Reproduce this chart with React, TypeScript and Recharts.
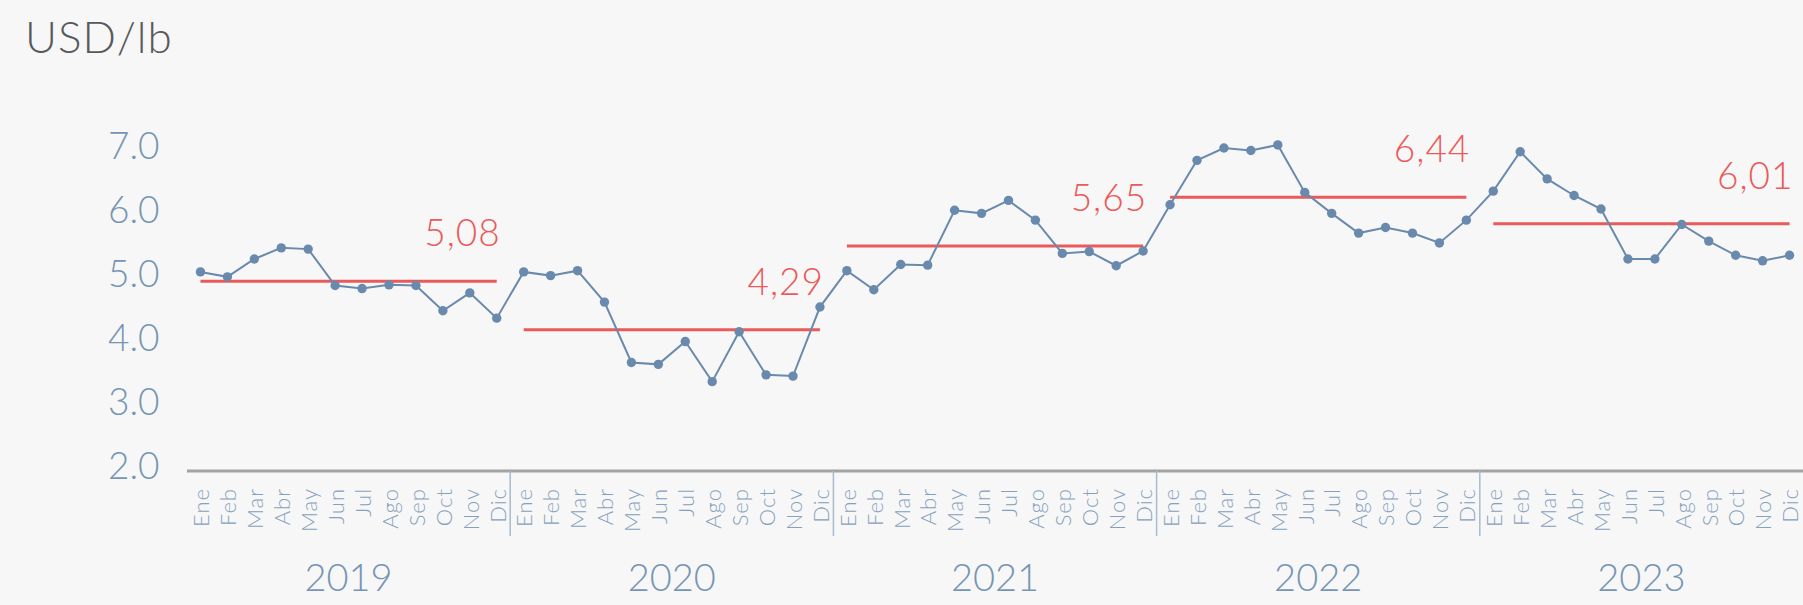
import React from "react";
import { ComposedChart, Line, XAxis, YAxis, ReferenceLine } from "recharts";

// monthly price, USD/lb
const YEARS = ["2019", "2020", "2021", "2022", "2023"];
const MONTHS = ["Ene", "Feb", "Mar", "Abr", "May", "Jun", "Jul", "Ago", "Sep", "Oct", "Nov", "Dic"];

const PRICE_2019 = [5.23, 5.15, 5.44, 5.62, 5.6, 5.01, 4.96, 5.02, 5.01, 4.6, 4.89, 4.48];
const PRICE_2020 = [5.23, 5.17, 5.25, 4.74, 3.76, 3.73, 4.1, 3.45, 4.26, 3.56, 3.54, 4.66];
const PRICE_2021 = [5.25, 4.94, 5.35, 5.34, 6.23, 6.18, 6.39, 6.07, 5.53, 5.56, 5.33, 5.57];
const PRICE_2022 = [6.32, 7.04, 7.24, 7.2, 7.29, 6.52, 6.18, 5.86, 5.95, 5.86, 5.7, 6.07];
const PRICE_2023 = [6.54, 7.18, 6.74, 6.47, 6.25, 5.44, 5.44, 6.0, 5.73, 5.5, 5.41, 5.5];

const YEAR_AVG = [5.08, 4.29, 5.65, 6.44, 6.01];
const Y_TICKS = [2, 3, 4, 5, 6, 7];

const PRICES = [PRICE_2019, PRICE_2020, PRICE_2021, PRICE_2022, PRICE_2023];

const W = 1803;
const H = 605;
const PLOT_LEFT = 187;
const BAND = (W - PLOT_LEFT) / (YEARS.length * MONTHS.length);

const C = {
  bg: "#f7f7f7",
  line: "#6a8aad",
  avg: "#ea5a5a",
  tick: "#7695b4",
  month: "#86a1bd",
  sep: "#a9bbcd",
  axis: "#a3a3a3",
  title: "#58595b",
};

const FONT = "Lato, 'Open Sans', sans-serif";

const data = YEARS.flatMap((yr, yi) =>
  MONTHS.map((m, mi) => ({ key: `${yr}-${m}`, price: PRICES[yi][mi] }))
);

function YTick({ x, y, payload }: any) {
  return (
    <text x={x - 79} y={y} dy="0.35em" textAnchor="start" fill={C.tick} fontSize={37} fontWeight={300}>
      {Number(payload.value).toFixed(1)}
    </text>
  );
}

function MonthTick({ x, y, payload, index }: any) {
  const [yr, m] = String(payload.value).split("-");
  return (
    <g>
      <text
        x={x}
        y={y + 17}
        dy="0.4em"
        transform={`rotate(-90, ${x}, ${y + 17})`}
        textAnchor="end"
        fill={C.month}
        fontSize={22}
        fontWeight={300}
        letterSpacing={1}
      >
        {m}
      </text>
      {m === "Ene" && index > 0 && (
        <line x1={x - BAND / 2} x2={x - BAND / 2} y1={y} y2={y + 65} stroke={C.sep} strokeWidth={1.5} />
      )}
      {m === "Jul" && (
        <text x={x - BAND / 2} y={y + 107} dy="0.35em" textAnchor="middle" fill={C.tick} fontSize={38} fontWeight={300}>
          {yr}
        </text>
      )}
    </g>
  );
}

function AvgLabel({ viewBox, text }: any) {
  const vb = viewBox || {};
  const right = vb.x2 != null ? Math.max(vb.x1, vb.x2) : vb.x + (vb.width || 0);
  const top = vb.y1 != null ? vb.y1 : vb.y;
  return (
    <text x={right + 4} y={top - 35} textAnchor="end" fill={C.avg} fontSize={37} fontWeight={300} letterSpacing={1}>
      {text}
    </text>
  );
}

export default function App() {
  return (
    <div style={{ position: "relative", width: W, height: H, background: C.bg, fontFamily: FONT }}>
      <style>{"body{margin:0;background:#f7f7f7}"}</style>
      <div
        style={{
          position: "absolute",
          left: 25,
          top: 14,
          fontSize: 44,
          lineHeight: "44px",
          fontWeight: 300,
          color: C.title,
          letterSpacing: 1,
        }}
      >
        USD/lb
      </div>
      <ComposedChart width={W} height={H} data={data} margin={{ top: 132, right: 0, bottom: 0, left: 0 }}>
        <XAxis
          dataKey="key"
          interval={0}
          height={134}
          padding={{ left: BAND / 2, right: BAND / 2 }}
          tickLine={false}
          tickSize={0}
          tickMargin={0}
          axisLine={{ stroke: C.axis, strokeWidth: 3 }}
          tick={<MonthTick />}
        />
        <YAxis yAxisId="val" type="number" domain={[2, 7.5]} allowDataOverflow hide />
        <YAxis
          yAxisId="lbl"
          type="number"
          domain={[1.917, 7.219]}
          allowDataOverflow
          ticks={Y_TICKS}
          width={PLOT_LEFT}
          axisLine={false}
          tickLine={false}
          tickSize={0}
          tickMargin={0}
          tick={<YTick />}
        />
        {YEARS.map((yr, i) => (
          <ReferenceLine
            key={yr}
            yAxisId="val"
            segment={[
              { x: `${yr}-Ene`, y: YEAR_AVG[i] },
              { x: `${yr}-Dic`, y: YEAR_AVG[i] },
            ]}
            stroke={C.avg}
            strokeWidth={3}
            ifOverflow="visible"
            label={<AvgLabel text={YEAR_AVG[i].toFixed(2).replace(".", ",")} />}
          />
        ))}
        <Line
          yAxisId="val"
          dataKey="price"
          type="linear"
          stroke={C.line}
          strokeWidth={2}
          dot={{ r: 4.7, fill: C.line, stroke: "none" }}
          isAnimationActive={false}
        />
      </ComposedChart>
    </div>
  );
}
